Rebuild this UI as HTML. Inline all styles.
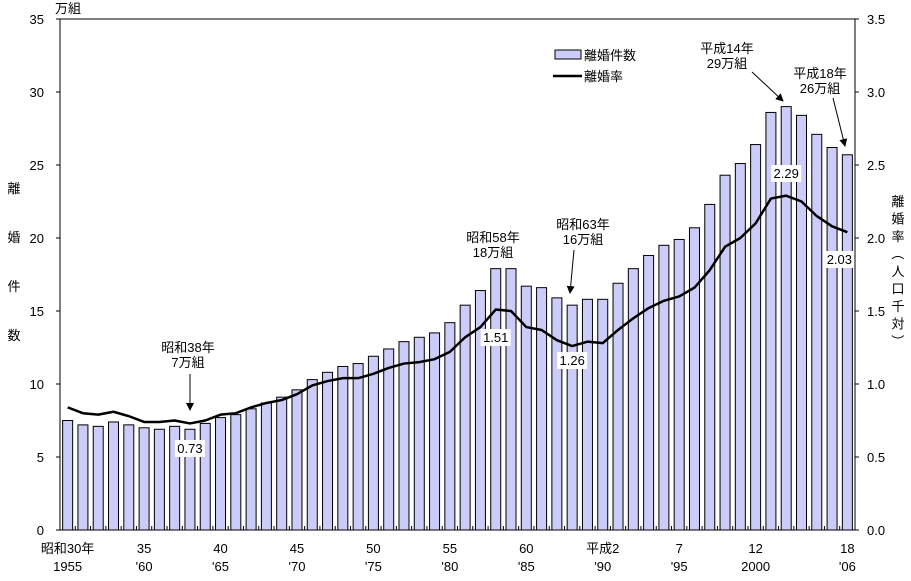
<!DOCTYPE html>
<html><head><meta charset="utf-8"><style>
body{margin:0;background:#fff;}
svg text{font-family:"Liberation Sans","Noto Sans CJK JP",sans-serif;font-size:13px;fill:#000;}
</style></head><body>
<svg id="c" width="911" height="576" xmlns="http://www.w3.org/2000/svg"></svg>
<script>
const years=[1955,1956,1957,1958,1959,1960,1961,1962,1963,1964,1965,1966,1967,1968,1969,1970,1971,1972,1973,1974,1975,1976,1977,1978,1979,1980,1981,1982,1983,1984,1985,1986,1987,1988,1989,1990,1991,1992,1993,1994,1995,1996,1997,1998,1999,2000,2001,2002,2003,2004,2005,2006];
const divorces=[7.5,7.2,7.1,7.4,7.2,7.0,6.9,7.1,6.9,7.3,7.7,7.9,8.3,8.7,9.1,9.6,10.3,10.8,11.2,11.4,11.9,12.4,12.9,13.2,13.5,14.2,15.4,16.4,17.9,17.9,16.7,16.6,15.9,15.4,15.8,15.8,16.9,17.9,18.8,19.5,19.9,20.7,22.3,24.3,25.1,26.4,28.6,29.0,28.4,27.1,26.2,25.7];
const rates=[0.84,0.80,0.79,0.81,0.78,0.74,0.74,0.75,0.73,0.75,0.79,0.80,0.84,0.87,0.89,0.93,0.99,1.02,1.04,1.04,1.07,1.11,1.14,1.15,1.17,1.22,1.32,1.39,1.51,1.50,1.39,1.37,1.30,1.26,1.29,1.28,1.37,1.45,1.52,1.57,1.60,1.66,1.78,1.94,2.00,2.10,2.27,2.29,2.25,2.15,2.08,2.04];
const leftTicks=[0,5,10,15,20,25,30,35];
const rightTicks=["0.0","0.5","1.0","1.5","2.0","2.5","3.0","3.5"];
const xLabelYears=[1955,1960,1965,1970,1975,1980,1985,1990,1995,2000,2006];
const xLabels1=["昭和30年","35","40","45","50","55","60","平成2","7","12","18"];
const xLabels2=["1955","'60","'65","'70","'75","'80","'85","'90","'95","2000","'06"];

const svg=document.getElementById('c');const NS='http://www.w3.org/2000/svg';
const L=60,R=855,T=19,B=530;
const yL=v=>B-(v/35)*(B-T);
const yR=v=>B-(v/3.5)*(B-T);
const step=(R-L)/years.length;
const xc=yr=>L+step*(years.indexOf(yr)+0.5);
function mk(tag,a,txt){const e=document.createElementNS(NS,tag);for(const k in a)e.setAttribute(k,a[k]);if(txt!=null)e.textContent=txt;svg.appendChild(e);return e;}

// bars
years.forEach((yr,i)=>{const b=mk('rect',{x:xc(yr)-5,y:yL(divorces[i]),width:10,height:B-yL(divorces[i]),fill:'#ccccf8',stroke:'#000','stroke-width':1});

});
// frame
const f=mk('rect',{x:L,y:T,width:R-L,height:B-T,fill:'none',stroke:'#000','stroke-width':1});

// x ticks
for(let i=1;i<years.length;i++){mk('line',{x1:L+step*i,x2:L+step*i,y1:B,y2:B-4,stroke:'#000'});}
// y ticks
leftTicks.forEach((v,i)=>{const y=yL(v);mk('line',{x1:L,x2:L-4,y1:y,y2:y,stroke:'#000'});mk('line',{x1:R,x2:R+4,y1:y,y2:y,stroke:'#000'});
const t=mk('text',{x:L-16,y:y+5,'text-anchor':'end'},String(v));
const t2=mk('text',{x:R+12,y:y+5,'text-anchor':'start'},rightTicks[i]);});
// x labels
xLabelYears.forEach((yr,i)=>{const x=xc(yr);const a=mk('text',{x:x,y:553,'text-anchor':'middle'},xLabels1[i]);
const b=mk('text',{x:x,y:571,'text-anchor':'middle'},xLabels2[i]);});
// rate line
const ln=mk('polyline',{points:years.map((yr,i)=>xc(yr)+','+yR(rates[i])).join(' '),fill:'none',stroke:'#000','stroke-width':2.5,'stroke-linejoin':'round'});

// value labels
[[1963,'0.73',453],[1983,'1.51',342],[1988,'1.26',365],[2002,'2.29',178],[2006,'2.03',264]].forEach(([yr,s,y])=>{let x=xc(yr);if(yr==2006)x-=8;
mk('rect',{x:x-15,y:y-13,width:30,height:17,fill:'#fff'});const t=mk('text',{x:x,y:y,'text-anchor':'middle'},s);});
// annotations
mk('defs',{}).innerHTML='<marker id="ah" markerWidth="8" markerHeight="8" refX="7" refY="4" orient="auto"><path d="M0,0 L8,4 L0,8 z" fill="#000"/></marker>';
function ann(lines,x,y,ax1,ay1,ax2,ay2){lines.forEach((s,i)=>{const t=mk('text',{x:x,y:y+i*15,'text-anchor':'middle'},s);});
if(ax1!=null)mk('line',{x1:ax1,y1:ay1,x2:ax2,y2:ay2,stroke:'#000','stroke-width':1,'marker-end':'url(#ah)'});}
ann(['昭和38年','7万組'],188,352,190,374,190,410);
ann(['昭和58年','18万組'],493,242);
ann(['昭和63年','16万組'],583,229,574,250,570,293);
ann(['平成14年','29万組'],727,53,752,72,783,101);
ann(['平成18年','26万組'],820,78,833,98,845,146);
// legend
mk('rect',{x:555,y:50,width:26,height:9,fill:'#ccccf8',stroke:'#000'});
let t=mk('text',{x:584,y:60},'離婚件数');
mk('line',{x1:553,x2:582,y1:76,y2:76,stroke:'#000','stroke-width':2.5});
t=mk('text',{x:584,y:81},'離婚率');
// axis titles
t=mk('text',{x:55,y:13},'万組');
['離','婚','件','数'].forEach((s,i)=>{const e=mk('text',{x:14,y:193+i*49,'text-anchor':'middle'},s);});
['離','婚','率','（','人','口','千','対','）'].forEach((s,i)=>{const e=mk('text',{x:898,y:206+i*17.5,'text-anchor':'middle',transform:(s=='（'||s=='）')?`rotate(90 898 ${201+i*17.5})`:''},s);});
</script>
</body></html>
